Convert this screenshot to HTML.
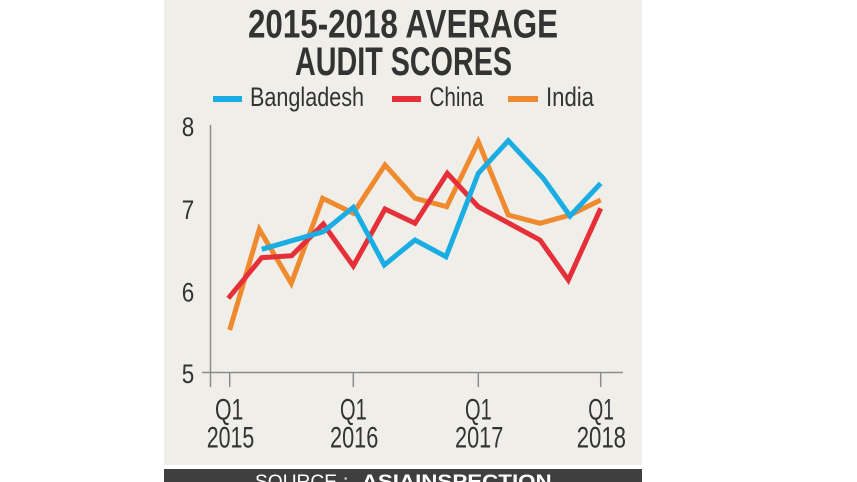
<!DOCTYPE html>
<html>
<head>
<meta charset="utf-8">
<style>
html,body{margin:0;padding:0;background:#ffffff;}
body{width:857px;height:482px;overflow:hidden;}
svg{display:block;}
text{font-family:"Liberation Sans Narrow","Liberation Sans",sans-serif;}
</style>
</head>
<body>
<svg width="857" height="482" viewBox="0 0 857 482" xmlns="http://www.w3.org/2000/svg">
  <rect x="0" y="0" width="857" height="482" fill="#ffffff"/>
  <rect x="164" y="0" width="478" height="465" fill="#f0eee8"/>
  <rect x="164" y="469" width="478" height="13" fill="#3f3f3f"/>

  <!-- Title -->
  <text x="248" y="37.5" font-size="40" font-weight="bold" fill="#333333" textLength="310" lengthAdjust="spacingAndGlyphs">2015-2018 AVERAGE</text>
  <text x="295" y="75" font-size="40" font-weight="bold" fill="#333333" textLength="217" lengthAdjust="spacingAndGlyphs">AUDIT SCORES</text>

  <!-- Legend -->
  <line x1="213" y1="99" x2="242" y2="99" stroke="#1aade4" stroke-width="6"/>
  <text x="250" y="106" font-size="27" fill="#333333" textLength="114" lengthAdjust="spacingAndGlyphs">Bangladesh</text>
  <line x1="392" y1="99" x2="421" y2="99" stroke="#e5303a" stroke-width="6"/>
  <text x="429.5" y="106" font-size="27" fill="#333333" textLength="54" lengthAdjust="spacingAndGlyphs">China</text>
  <line x1="508" y1="99" x2="538" y2="99" stroke="#f08a2e" stroke-width="6"/>
  <text x="546" y="106" font-size="27" fill="#333333" textLength="48" lengthAdjust="spacingAndGlyphs">India</text>

  <!-- Y labels -->
  <text x="181.7" y="136" font-size="27" fill="#333333" textLength="12.5" lengthAdjust="spacingAndGlyphs">8</text>
  <text x="181.7" y="219" font-size="27" fill="#333333" textLength="12.5" lengthAdjust="spacingAndGlyphs">7</text>
  <text x="181.7" y="301.5" font-size="27" fill="#333333" textLength="12.5" lengthAdjust="spacingAndGlyphs">6</text>
  <text x="181.7" y="383" font-size="27" fill="#333333" textLength="12.5" lengthAdjust="spacingAndGlyphs">5</text>

  <!-- Axes -->
  <g stroke="#8c8c8c" stroke-width="1.5" fill="none">
    <line x1="210.5" y1="125" x2="210.5" y2="387"/>
    <line x1="202" y1="372.5" x2="623" y2="372.5"/>
    <line x1="229.7" y1="372.5" x2="229.7" y2="387"/>
    <line x1="353.3" y1="372.5" x2="353.3" y2="387"/>
    <line x1="478.3" y1="372.5" x2="478.3" y2="387"/>
    <line x1="600.7" y1="372.5" x2="600.7" y2="387"/>
  </g>

  <!-- X labels -->
  <g font-size="30" fill="#333333">
    <text x="215" y="419.5" textLength="28.3" lengthAdjust="spacingAndGlyphs">Q1</text>
    <text x="206.7" y="447.3" textLength="47.6" lengthAdjust="spacingAndGlyphs">2015</text>
    <text x="340" y="419.5" textLength="26.7" lengthAdjust="spacingAndGlyphs">Q1</text>
    <text x="330" y="447.3" textLength="48.3" lengthAdjust="spacingAndGlyphs">2016</text>
    <text x="465" y="419.5" textLength="26.7" lengthAdjust="spacingAndGlyphs">Q1</text>
    <text x="455" y="447.3" textLength="48.3" lengthAdjust="spacingAndGlyphs">2017</text>
    <text x="588.3" y="419.5" textLength="25.7" lengthAdjust="spacingAndGlyphs">Q1</text>
    <text x="576.7" y="447.3" textLength="49.3" lengthAdjust="spacingAndGlyphs">2018</text>
  </g>

  <!-- Series -->
  <g fill="none" stroke-width="5" stroke-linejoin="miter" stroke-linecap="butt">
    <polyline stroke="#f08a2e" points="229.7,330 259.3,229.3 291.3,283.3 322.7,198.3 353.3,213.3 385,165 415,198.3 446.7,206.7 478.3,141.7 508.3,215 540,223.3 570,215 600.7,200"/>
    <polyline stroke="#e5303a" points="228.3,298.3 261.7,257.7 291.7,255.7 323.3,224 353.3,266 385,209 415,223.3 447.3,173.3 478.3,206.7 540,240 568.3,280 600.7,208.3"/>
    <polyline stroke="#1aade4" points="261.7,249.3 323.3,231.7 353.3,207.3 384.3,265 415,240 446,256.7 478.3,173.3 508.3,140.7 543.3,178.3 570,216 600.7,183.3"/>
  </g>

  <!-- Source -->
  <text x="255" y="488" font-size="19" fill="#ffffff" textLength="82" lengthAdjust="spacingAndGlyphs">SOURCE</text>
  <text x="343" y="488" font-size="19" fill="#ffffff">:</text>
  <text x="361.7" y="488" font-size="19" font-weight="bold" fill="#ffffff" textLength="190" lengthAdjust="spacingAndGlyphs">ASIAINSPECTION</text>
</svg>
</body>
</html>
